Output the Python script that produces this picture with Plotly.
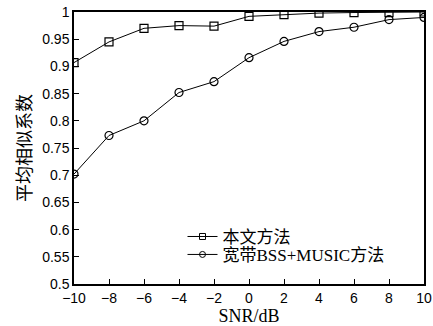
import plotly.graph_objects as go

snr = [-10, -8, -6, -4, -2, 0, 2, 4, 6, 8, 10]
proposed = [0.907, 0.945, 0.970, 0.975, 0.974, 0.992, 0.995, 0.998, 0.999, 0.999, 1.0]
bss_music = [0.702, 0.773, 0.800, 0.852, 0.872, 0.916, 0.946, 0.964, 0.972, 0.986, 0.990]
names = ["本文方法", "宽带BSS+MUSIC方法"]
xticks = list(range(-10, 11, 2))
yticks = [0.5, 0.55, 0.6, 0.65, 0.7, 0.75, 0.8, 0.85, 0.9, 0.95, 1.0]
ytick_text = ["0.5", "0.55", "0.6", "0.65", "0.7", "0.75", "0.8", "0.85", "0.9", "0.95", "1"]
symbols = ["square-open", "circle-open"]
legend_ids = ["legend", "legend2"]

serif_cjk = "Liberation Serif, Times New Roman, Noto Sans CJK SC"

fig = go.Figure()
for ys, nm, sym, lg in zip([proposed, bss_music], names, symbols, legend_ids):
    fig.add_trace(go.Scatter(x=snr, y=ys, name=nm, mode="lines+markers", showlegend=False,
                             line=dict(color="black", width=1),
                             marker=dict(symbol=sym, size=8, color="black", line=dict(width=1.2))))
    # legend entry with the smaller marker used in the original legend
    fig.add_trace(go.Scatter(x=[None], y=[None], name=nm, mode="lines+markers", legend=lg,
                             line=dict(color="black", width=1),
                             marker=dict(symbol=sym, size=6, color="black", line=dict(width=1))))

axis_common = dict(showline=True, linecolor="black", linewidth=1.5, mirror=True, automargin=False,
                   ticks="inside", ticklen=5, tickcolor="black", showgrid=False, zeroline=False,
                   tickfont=dict(family="Liberation Sans, Arial", size=14, color="black"))
fig.update_xaxes(range=[-10, 10], tickvals=xticks, **axis_common,
                 title=dict(text="SNR/dB", font=dict(family=serif_cjk, size=18, color="black"), standoff=2))
fig.update_yaxes(range=[0.5, 1.0], tickvals=yticks, ticktext=ytick_text, **axis_common,
                 title=dict(text="平均相似系数", font=dict(family=serif_cjk, size=18, color="black"), standoff=6))

legend_style = dict(xanchor="left", yanchor="middle", bgcolor="rgba(0,0,0,0)",
                    font=dict(family=serif_cjk, size=17, color="black"), itemwidth=30)
fig.update_layout(width=433, height=326, margin=dict(l=74, r=9, t=12, b=42, autoexpand=False),
                  plot_bgcolor="white", paper_bgcolor="white", showlegend=True,
                  legend=dict(x=0.31, y=0.173, **legend_style),
                  legend2=dict(x=0.31, y=0.107, **legend_style))
fig.write_html("out.html", config={"displayModeBar": False},
               post_script="document.body.style.margin='0';document.body.style.padding='0';")
